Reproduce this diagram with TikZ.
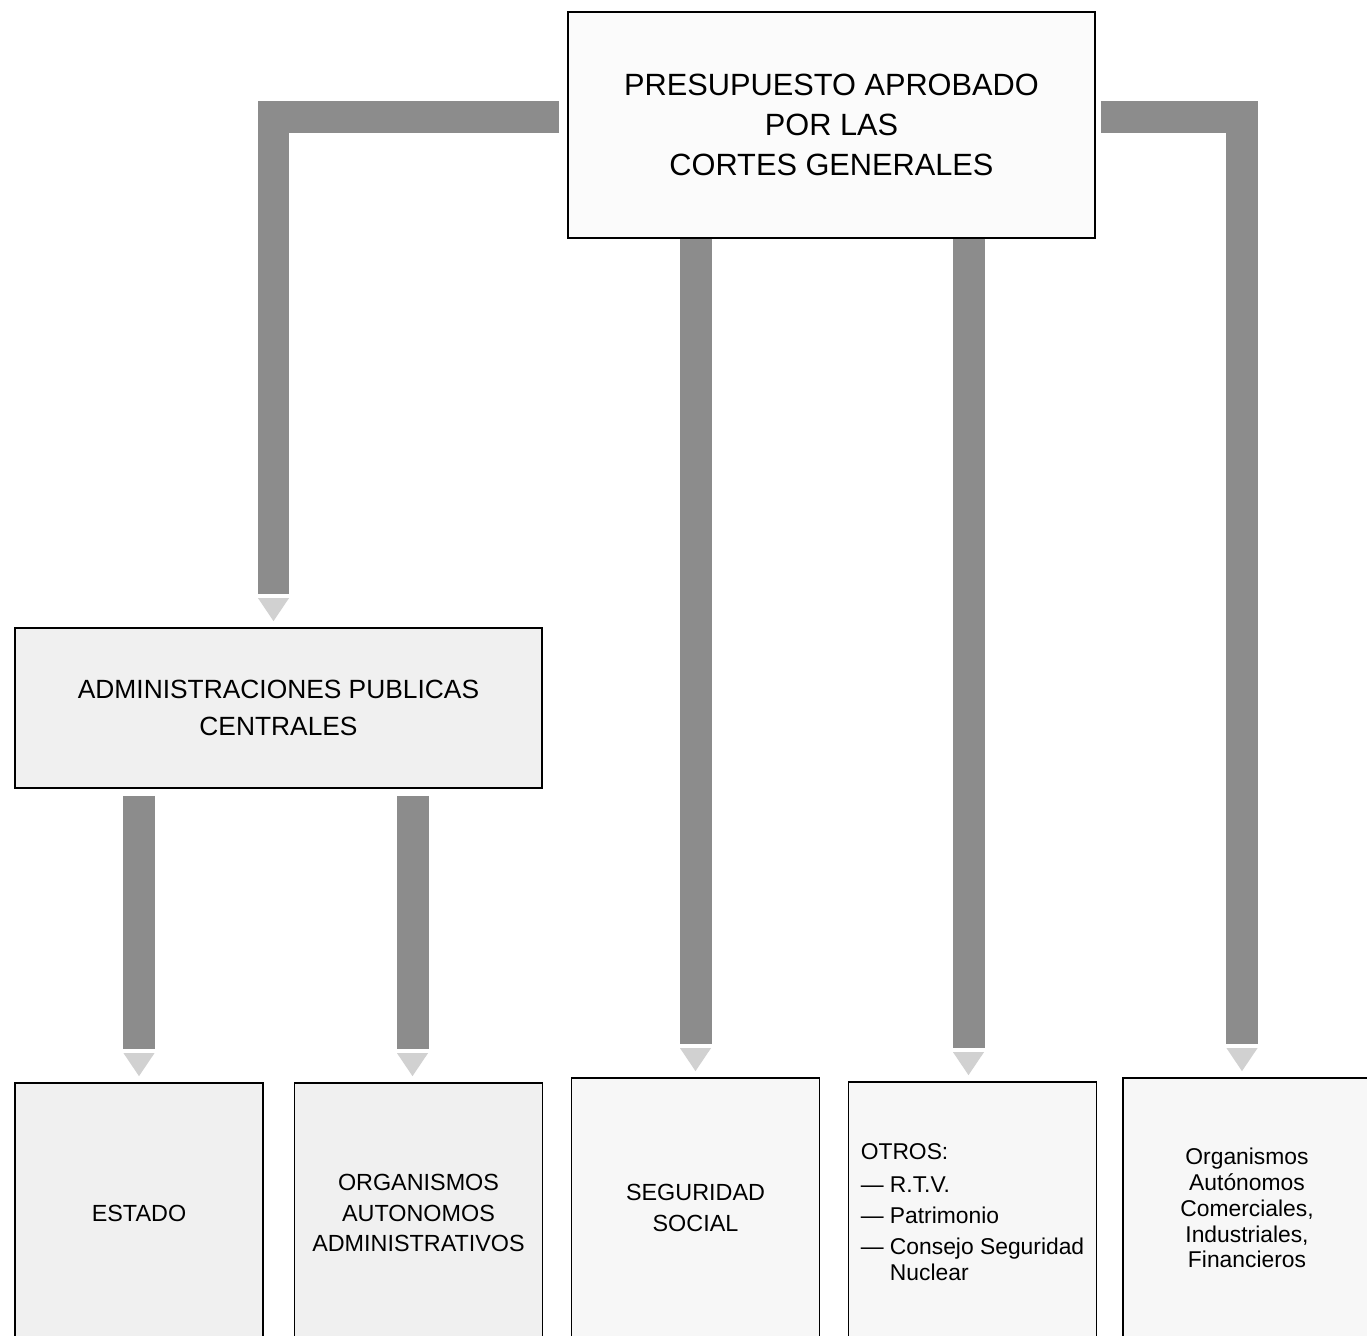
\documentclass[tikz,border=0pt]{standalone}
\usepackage{fontspec}
\setmainfont{Liberation Sans}
\usetikzlibrary{decorations.markings}

\begin{document}
\begin{tikzpicture}[x=0.02cm,y=-0.02cm,
  box/.style={draw=black,line width=1pt,fill=gray!12,align=center,inner sep=0pt,
    minimum width=4.96cm,minimum height=5.2cm,font=\fontsize{13.3}{17.6}\selectfont},
  bar/.style={draw=black!45,line width=0.64cm,line join=miter,shorten >=0.66cm,
    postaction={decorate,decoration={markings,mark=at position -0.12cm with
      {\fill[black!18] (0,0) -- (-0.46cm,0.31cm) -- (-0.46cm,-0.31cm) -- cycle;}}}},
]
\useasboundingbox (0,0) rectangle (1367,1336);
\clip (0,0) rectangle (1367,1336);

% boxes
\node[box,fill=gray!3,minimum width=10.54cm,minimum height=4.52cm,
  font=\fontsize{17.5}{22.7}\selectfont] (presupuesto) at (831.5,125)
  {PRESUPUESTO APROBADO\\POR LAS\\CORTES GENERALES};
\node[box,minimum width=10.54cm,minimum height=3.2cm,
  font=\fontsize{15}{21}\selectfont] (admin) at (278.5,708)
  {ADMINISTRACIONES PUBLICAS\\CENTRALES};

\node[box] (estado) at (139,1213) {ESTADO};
\node[box] (organismos) at (418.5,1213) {ORGANISMOS\\AUTONOMOS\\ADMINISTRATIVOS};
\node[box,fill=gray!6] (seguridad) at (695.5,1208) {SEGURIDAD\\SOCIAL};
\node[box,fill=gray!6,align=left,
  font=\fontsize{13}{14.7}\selectfont] (otros) at (972.5,1212)
  {OTROS:\\[4pt]
   --- R.T.V.\\[2.9pt]
   --- Patrimonio\\[2.9pt]
   --- Consejo Seguridad\\
   \phantom{--- }Nuclear};
\node[box,fill=gray!6,font=\fontsize{13}{14.7}\selectfont] (orgcom) at (1247,1208)
  {Organismos\\Autónomos\\Comerciales,\\Industriales,\\Financieros};

% bars
\draw[bar,shorten <=0.16cm] ([yshift=0.17cm]presupuesto.west) -| ([xshift=-0.1cm]admin.north);
\draw[bar,shorten <=0.1cm] ([yshift=0.17cm]presupuesto.east) -| ([xshift=-0.1cm]orgcom.north);
\draw[bar] (presupuesto.south -| seguridad.north) -- (seguridad.north);
\draw[bar] ([xshift=-0.08cm]presupuesto.south -| otros.north) -- ([xshift=-0.08cm]otros.north);
\draw[bar,shorten <=0.14cm] (admin.south -| estado.north) -- (estado.north);
\draw[bar,shorten <=0.14cm] ([xshift=-0.12cm]admin.south -| organismos.north) -- ([xshift=-0.12cm]organismos.north);
\end{tikzpicture}
\end{document}
